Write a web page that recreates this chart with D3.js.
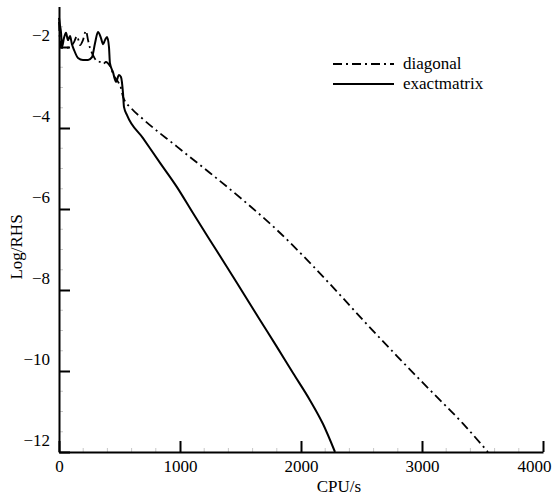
<!DOCTYPE html>
<html>
<head>
<meta charset="utf-8">
<script src="https://cdn.jsdelivr.net/npm/d3@7"></script>
<style>
	body { margin: 0; background: #fff; }
	svg text { font-family: "Liberation Serif", "Times New Roman", serif; font-size: 17px; fill: #000; }
</style>
</head>
<body>
<svg id="chart" width="553" height="498"></svg>
<script>
// Data
const cpu_diagonal = [0, 8, 17, 58, 91, 124, 149, 174, 198, 223, 240, 256, 281, 314, 339, 364, 388, 421, 455, 488, 512, 529,
	600, 694, 975, 1248, 1521, 1802, 2074, 2322, 2512, 2793, 3066, 3339, 3545];
const rhs_diagonal = [-1.38, -1.83, -2.02, -2.02, -2.00, -1.88, -1.73, -1.95, -1.83, -1.60, -1.83, -2.02, -2.20, -2.35, -2.37, -2.42, -2.37, -2.47, -2.72, -2.86, -3.01, -3.23,
	-3.52, -3.78, -4.46, -5.11, -5.78, -6.52, -7.33, -8.12, -8.74, -9.63, -10.47, -11.30, -12.0];

const cpu_exact = [0, 8, 17, 25, 41, 58, 74, 91, 107, 124, 157, 198, 240, 273, 298, 322, 347, 364, 380, 397, 413, 421, 446, 471, 496, 512, 529, 537, 562,
	694, 835, 975, 1107, 1248, 1388, 1521, 1661, 1802, 1934, 2074, 2182, 2281];
const rhs_exact = [-1.28, -1.46, -1.65, -2.00, -1.78, -1.65, -1.83, -1.73, -1.93, -2.07, -2.27, -2.32, -2.32, -2.25, -1.90, -1.63, -1.78, -1.93, -1.83, -1.75, -2.00, -2.40, -2.62, -2.86, -2.69, -2.74, -3.14, -3.48, -3.68,
	-4.25, -4.86, -5.46, -6.10, -6.77, -7.43, -8.07, -8.74, -9.41, -10.05, -10.72, -11.31, -12.0];

const series_names = ["diagonal", "exactmatrix"];
const x_ticks = [0, 1000, 2000, 3000, 4000];
const y_ticks = [-12, -10, -8, -6, -4, -2];

function whenDocumentLoaded(action) {
	if (document.readyState === "loading") {
		document.addEventListener("DOMContentLoaded", action);
	} else {
		action();
	}
}

whenDocumentLoaded(() => {

	const svg = d3.select("#chart");

	const x = d3.scaleLinear().domain([0, 4000]).range([59, 543]);
	const y = d3.scaleLinear().domain([-12, -1]).range([452, 6.5]);

	// minor ticks (faint)
	const x_minor = d3.range(200, 4000, 200).filter(d => d % 1000 !== 0);
	const y_minor = d3.range(-11.5, -1.4, 0.5).filter(d => Math.abs(d % 2) > 0.01);

	svg.append("g")
		.selectAll("line")
		.data(x_minor)
		.enter()
		.append("line")
			.attr("x1", d => x(d)).attr("x2", d => x(d))
			.attr("y1", y(-12)).attr("y2", y(-12) - 4)
			.attr("stroke", "#c8c8c8").attr("stroke-width", 1);

	svg.append("g")
		.selectAll("line")
		.data(y_minor)
		.enter()
		.append("line")
			.attr("x1", x(0)).attr("x2", x(0) + 4)
			.attr("y1", d => y(d)).attr("y2", d => y(d))
			.attr("stroke", "#c8c8c8").attr("stroke-width", 1);

	// X axis
	const x_axis = svg.append("g")
		.attr("transform", `translate(0,${y(-12)})`)
		.call(d3.axisBottom(x).tickValues(x_ticks).tickFormat(d3.format("d"))
			.tickSizeInner(-11).tickSizeOuter(0).tickPadding(8));

	x_axis.selectAll("text").attr("font-family", null).attr("font-size", null);
	x_axis.selectAll("text").filter(d => d === 4000).attr("x", -9); // last label pulled in
	x_axis.selectAll("line").attr("stroke-width", 2);
	x_axis.select(".domain").attr("stroke-width", 2);

	// Y axis
	const y_axis = svg.append("g")
		.attr("transform", `translate(${x(0)},0)`)
		.call(d3.axisLeft(y).tickValues(y_ticks).tickFormat(d3.format("d"))
			.tickSizeInner(-11).tickSizeOuter(0).tickPadding(9));

	y_axis.selectAll("text").attr("font-family", null).attr("font-size", null)
		.attr("y", -12); // labels sit above their ticks in the original
	y_axis.selectAll("line").attr("stroke-width", 2);
	y_axis.select(".domain").attr("stroke-width", 2);

	// Axis titles
	svg.append("text")
		.attr("x", 339)
		.attr("y", 492)
		.attr("text-anchor", "middle")
		.text("CPU/s");

	svg.append("text")
		.attr("transform", "translate(22,247) rotate(-90)")
		.attr("text-anchor", "middle")
		.text("Log/RHS");

	// Curves
	const line = d3.line()
		.x(d => x(d[0]))
		.y(d => y(d[1]))
		.curve(d3.curveMonotoneX);

	const diagonal = cpu_diagonal.map((c, i) => [c, rhs_diagonal[i]]);
	const exact = cpu_exact.map((c, i) => [c, rhs_exact[i]]);

	svg.append("path")
		.datum(diagonal)
		.attr("d", line)
		.attr("fill", "none")
		.attr("stroke", "#000")
		.attr("stroke-width", 1.8)
		.attr("stroke-dasharray", "9,4,2,4");

	svg.append("path")
		.datum(exact)
		.attr("d", line)
		.attr("fill", "none")
		.attr("stroke", "#000")
		.attr("stroke-width", 2)
		.attr("stroke-linejoin", "round");

	// Legend
	const legend = svg.append("g")
		.selectAll("g")
		.data(series_names)
		.enter()
		.append("g")
			.attr("transform", (d, i) => `translate(333,${64 + i * 20})`);

	legend.append("line")
		.attr("x1", 0).attr("x2", 61)
		.attr("y1", 0).attr("y2", 0)
		.attr("stroke", "#000")
		.attr("stroke-width", (d, i) => i === 0 ? 1.8 : 2)
		.attr("stroke-dasharray", (d, i) => i === 0 ? "9,4,2,4" : null);

	legend.append("text")
		.attr("x", 70)
		.attr("y", 5)
		.text(d => d);
});
</script>
</body>
</html>
